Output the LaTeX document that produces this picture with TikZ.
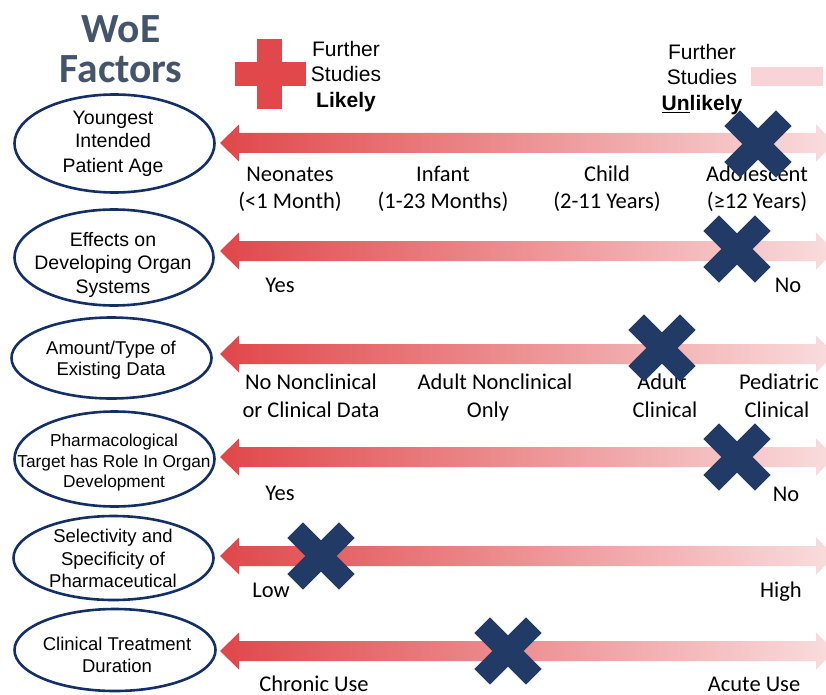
\documentclass[tikz,border=0pt]{standalone}
\usepackage{fontspec}
\setmainfont{Liberation Sans}
\newfontfamily\califont{Carlito}
\usetikzlibrary{shapes.geometric}
\definecolor{titlecol}{HTML}{44546A}
\definecolor{ellcol}{HTML}{132F68}
\definecolor{xcol}{HTML}{213A66}
\definecolor{plusred}{HTML}{E0484B}
\definecolor{arrL}{HTML}{E0474A}
\definecolor{arrR}{HTML}{FADDDE}
\definecolor{pinkbox}{HTML}{F8D4D6}
\newcommand\bararrow[1]{%
  \shade[left color=arrL, right color=arrR]
    (220,#1) -- (239,#1-18.5) -- (239,#1-10) -- (816,#1-10) -- (816,#1-18.5)
    -- (835,#1) -- (816,#1+18.5) -- (816,#1+10) -- (239,#1+10) -- (239,#1+18.5) -- cycle;}
\begin{document}
\begin{tikzpicture}[x=1pt,y=-1pt,
  ell/.style={draw=ellcol, line width=2.6pt, ellipse, inner sep=0pt},
  etext/.style={font=\fontsize{19.5}{22}\selectfont, anchor=base, inner sep=0pt},
  emid/.style={font=\fontsize{18.5}{22}\selectfont, anchor=base, inner sep=0pt},
  esmall/.style={font=\fontsize{17.3}{20}\selectfont, anchor=base, inner sep=0pt},
  lab/.style={font=\califont\fontsize{22.5}{26}\selectfont, anchor=base, inner sep=0pt},
  legend/.style={font=\fontsize{21}{25}\selectfont, anchor=base, inner sep=0pt},
  titletext/.style={font=\califont\bfseries\fontsize{41.5}{40}\selectfont, text=titlecol, anchor=base, inner sep=0pt},
  xmark/.pic={\fill[xcol, rotate=45] (-11,-36.5) -- (11,-36.5) -- (11,-11) -- (36.5,-11) -- (36.5,11) -- (11,11) -- (11,36.5) -- (-11,36.5) -- (-11,11) -- (-36.5,11) -- (-36.5,-11) -- (-11,-11) -- cycle;}
]
\useasboundingbox (0,0) rectangle (826,695);
\clip (0,0) rectangle (826,695);

% title
\node[titletext] (t1) at (121,43) {WoE};
\node[titletext] (t2) at (121,83) {Factors};

% legend
\fill[plusred] (257,39) rectangle (282,109);
\fill[plusred] (235,62) rectangle (306,86);
\node[legend] (l1) at (346,57) {Further};
\node[legend] (l2) at (346,82) {Studies};
\node[legend] (l3) at (346,108) {\bfseries Likely};
\node[legend] (u1) at (702,60) {Further};
\node[legend] (u2) at (702,85) {Studies};
\node[legend] (u3) at (702,111) {\bfseries\underline{Un}likely};
\fill[pinkbox] (751,67) rectangle (823,86);

% ellipses
\node[ell, minimum width=200pt, minimum height=98pt] (e1) at (114.5,143.5) {};
\node[ell, minimum width=199pt, minimum height=96pt] (e2) at (114,257.5) {};
\node[ell, minimum width=200pt, minimum height=81pt] (e3) at (111.5,358) {};
\node[ell, minimum width=200pt, minimum height=95pt] (e4) at (114.5,459) {};
\node[ell, minimum width=200pt, minimum height=84pt] (e5) at (113.5,558) {};
\node[ell, minimum width=201pt, minimum height=82pt] (e6) at (115,650) {};

\node[etext] (e1a) at (113,125) {Youngest};
\node[etext] (e1b) at (113,148) {Intended};
\node[etext] (e1c) at (113,172) {Patient Age};
\node[etext] (e2a) at (113,246) {Effects on};
\node[etext] (e2b) at (113,269) {Developing Organ};
\node[etext] (e2c) at (113,293) {Systems};
\node[emid] (e3a) at (111,354) {Amount/Type of};
\node[emid] (e3b) at (111,375) {Existing Data};
\node[esmall] (e4a) at (114,446) {Pharmacological};
\node[esmall] (e4b) at (114,467) {Target has Role In Organ};
\node[esmall] (e4c) at (114,487) {Development};
\node[emid] (e5a) at (113,542) {Selectivity and};
\node[emid] (e5b) at (113,565) {Specificity of};
\node[emid] (e5c) at (113,587) {Pharmaceutical};
\node[emid] (e6a) at (117,650) {Clinical Treatment};
\node[emid] (e6b) at (117,672) {Duration};

% arrows
\bararrow{143}
\bararrow{251}
\bararrow{354}
\bararrow{457}
\bararrow{556}
\bararrow{651}

% labels row 1
\node[lab] (r1a) at (290,182) {Neonates};
\node[lab] (r1b) at (290,208) {(<1 Month)};
\node[lab] (r1c) at (443,182) {Infant};
\node[lab] (r1d) at (443,208) {(1-23 Months)};
\node[lab] (r1e) at (607,182) {Child};
\node[lab] (r1f) at (607,208) {(2-11 Years)};
\node[lab] (r1g) at (757,182) {Adolescent};
\node[lab] (r1h) at (757,208) {(≥12 Years)};
% row 2
\node[lab] (r2a) at (280,292) {Yes};
\node[lab] (r2b) at (788,292) {No};
% row 3
\node[lab] (r3a) at (311,389) {No Nonclinical};
\node[lab] (r3b) at (311,417) {or Clinical Data};
\node[lab] (r3c) at (495,389) {Adult Nonclinical};
\node[lab] (r3d) at (488,417) {Only};
\node[lab] (r3e) at (662,389) {Adult};
\node[lab] (r3f) at (665,417) {Clinical};
\node[lab] (r3g) at (779,389) {Pediatric};
\node[lab] (r3h) at (777,417) {Clinical};
% row 4
\node[lab] (r4a) at (280,500) {Yes};
\node[lab] (r4b) at (786,501) {No};
% row 5
\node[lab] (r5a) at (271,597) {Low};
\node[lab] (r5b) at (781,597) {High};
% row 6
\node[lab] (r6a) at (314,691) {Chronic Use};
\node[lab] (r6b) at (754,691) {Acute Use};

% crosses
\pic (x1) at (758,144) {xmark};
\pic (x2) at (737,249) {xmark};
\pic (x3) at (662,348) {xmark};
\pic (x4) at (737,457) {xmark};
\pic (x5) at (321,556) {xmark};
\pic (x6) at (508,651) {xmark};
\end{tikzpicture}
\end{document}
